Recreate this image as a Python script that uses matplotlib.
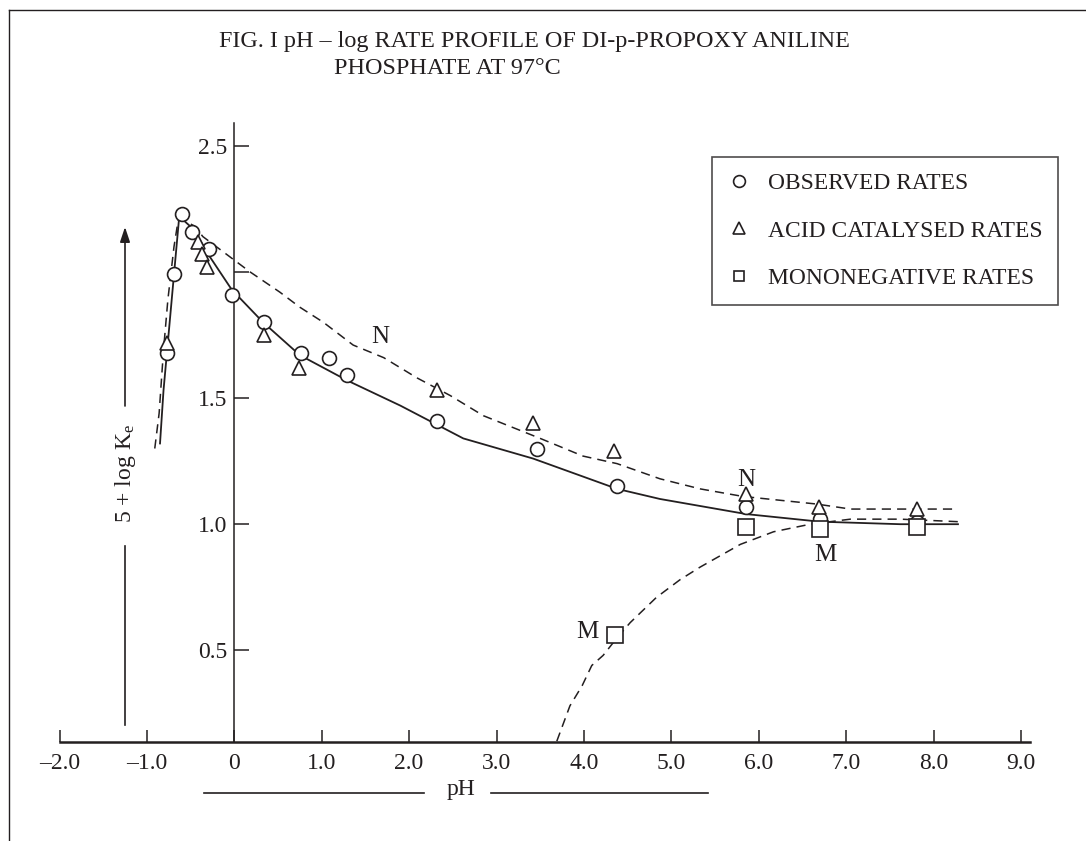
import matplotlib
matplotlib.use("Agg")
import matplotlib.pyplot as plt
from matplotlib.lines import Line2D
from matplotlib.ticker import FixedLocator, FixedFormatter

plt.rcParams['font.family'] = ['Liberation Serif', 'DejaVu Serif']
plt.rcParams['mathtext.fontset'] = 'custom'
plt.rcParams['mathtext.rm'] = 'Liberation Serif'
plt.rcParams['mathtext.it'] = 'Liberation Serif:italic'

INK = '#231f20'

# ---------------- data ----------------
obs_ph = [-0.77, -0.69, -0.60, -0.48, -0.29, -0.03, 0.34, 0.76, 1.08, 1.29, 2.32, 3.46, 4.38, 5.86, 6.70, 7.81]
obs_val = [1.68, 1.99, 2.23, 2.16, 2.09, 1.91, 1.80, 1.68, 1.66, 1.59, 1.41, 1.30, 1.15, 1.07, 1.02, 1.01]

acid_ph = [-0.77, -0.42, -0.37, -0.31, 0.34, 0.74, 2.32, 3.42, 4.35, 5.85, 6.69, 7.81]
acid_val = [1.72, 2.12, 2.07, 2.02, 1.75, 1.62, 1.53, 1.40, 1.29, 1.12, 1.07, 1.06]

mono_ph = [4.36, 5.86, 6.70, 7.81]
mono_val = [0.56, 0.99, 0.98, 0.99]

# solid fitted curve (observed)
fit_ph = [-0.85, -0.81, -0.63, -0.47, -0.28, -0.03, 0.33, 0.75, 1.29, 1.90, 2.62, 3.42, 4.38, 4.87, 5.86, 6.70, 7.62, 8.28]
fit_val = [1.32, 1.53, 2.22, 2.17, 2.06, 1.93, 1.80, 1.67, 1.57, 1.47, 1.34, 1.26, 1.14, 1.10, 1.04, 1.01, 1.00, 1.00]

# dashed curve N (acid catalysed)
n_ph = [-0.91, -0.86, -0.81, -0.76, -0.69, -0.64, -0.55, -0.45, -0.36, 0.18, 0.52, 0.75, 1.02, 1.36, 1.71,
        2.09, 2.47, 2.85, 3.50, 3.99, 4.38, 4.87, 5.33, 5.82, 6.66, 7.05, 8.25]
n_val = [1.30, 1.44, 1.69, 1.89, 2.10, 2.21, 2.20, 2.18, 2.14, 2.00, 1.92, 1.86, 1.80, 1.71, 1.66,
         1.58, 1.51, 1.43, 1.34, 1.27, 1.24, 1.18, 1.14, 1.11, 1.08, 1.06, 1.06]

# dashed curve M (mononegative)
m_ph = [3.69, 3.84, 3.98, 4.09, 4.22, 4.38, 4.53, 4.83, 5.10, 5.33, 5.79, 6.17, 6.59, 7.05, 7.62, 8.28]
m_val = [0.14, 0.28, 0.36, 0.44, 0.48, 0.55, 0.61, 0.71, 0.78, 0.83, 0.92, 0.97, 1.00, 1.02, 1.02, 1.01]

x_ticks = [-2, -1, 0, 1, 2, 3, 4, 5, 6, 7, 8, 9]
x_labels = ['\u20132.0', '\u20131.0', '0', '1.0', '2.0', '3.0', '4.0', '5.0', '6.0', '7.0', '8.0', '9.0']
y_ticks = [0.5, 1.0, 1.5, 2.0, 2.5]
y_labels = ['0.5', '1.0', '1.5', '', '2.5']

legend_labels = ['OBSERVED RATES', 'ACID CATALYSED RATES', 'MONONEGATIVE RATES']

# ---------------- layout ----------------
W, H = 1086, 841
fig = plt.figure(figsize=(W / 100, H / 100), dpi=100)
x0px, xscale = 234.3, 87.4      # pixel of pH 0, pixels per pH unit
y0px, yscale = 776.5, 252.3     # pixel (from top) of value 0, pixels per unit
xlim = (-2.5, 9.5)
ylim = (0.0, 2.7)
left = (x0px + xlim[0] * xscale) / W
right = (x0px + xlim[1] * xscale) / W
top = (y0px - ylim[1] * yscale)
bottom = y0px
ax = fig.add_axes([left, 1 - bottom / H, right - left, (bottom - top) / H])
ax.set_xlim(*xlim)
ax.set_ylim(*ylim)
ax.patch.set_alpha(0)

axis_y = 0.137
for s in ['top', 'right']:
    ax.spines[s].set_visible(False)
ax.spines['bottom'].set_position(('data', axis_y))
ax.spines['bottom'].set_bounds(-2, 9.1)
ax.spines['bottom'].set_linewidth(1.8)
ax.spines['bottom'].set_color(INK)
ax.spines['left'].set_position(('data', 0))
ax.spines['left'].set_bounds(axis_y, 2.59)
ax.spines['left'].set_linewidth(1.1)
ax.spines['left'].set_color(INK)

ax.xaxis.set_major_locator(FixedLocator(x_ticks))
ax.xaxis.set_major_formatter(FixedFormatter(x_labels))
ax.yaxis.set_major_locator(FixedLocator(y_ticks))
ax.yaxis.set_major_formatter(FixedFormatter(y_labels))
ax.tick_params(axis='x', direction='in', length=8.6, width=1.1, color=INK,
               labelsize=17, pad=8, labelcolor=INK)
ax.tick_params(axis='y', direction='in', length=11, width=1.1, color=INK,
               labelsize=17, pad=5, labelcolor=INK)

# ---------------- curves ----------------
ax.plot(fit_ph, fit_val, color=INK, lw=1.3, clip_on=False)
ax.plot(n_ph, n_val, color=INK, lw=1.1, ls=(0, (6, 4)), clip_on=False)
ax.plot(m_ph, m_val, color=INK, lw=1.1, ls=(0, (6, 4)), clip_on=False)

mk = dict(ls='none', mfc='white', mec=INK, mew=1.2, clip_on=False)
ax.plot(obs_ph, obs_val, marker='o', ms=10, zorder=4, **mk)
ax.plot(acid_ph, acid_val, marker='^', ms=10, zorder=4, **mk)
ax.plot(mono_ph, mono_val, marker='s', ms=12, zorder=4, **mk)

# curve labels
lab = dict(fontsize=18, color=INK, ha='center', va='center')
ax.text(1.675, 1.743, 'N', **lab)
ax.text(5.855, 1.175, 'N', **lab)
ax.text(6.76, 0.878, 'M', **lab)
ax.text(4.035, 0.572, 'M', **lab)

# ---------------- legend ----------------
handles = [Line2D([], [], marker='o', ms=8.5, **mk),
           Line2D([], [], marker='^', ms=8.5, **mk),
           Line2D([], [], marker='s', ms=6.5, **mk)]
leg = ax.legend(handles, legend_labels, loc='upper left',
                bbox_to_anchor=(712 / W, 1 - 157 / H), bbox_transform=fig.transFigure,
                fontsize=16.9, frameon=True, fancybox=False, edgecolor=INK,
                handlelength=1.0, handletextpad=0.71, borderpad=0.67,
                labelspacing=1.11, borderaxespad=0)
leg.get_frame().set_linewidth(1.2)
for t in leg.get_texts():
    t.set_color(INK)

# ---------------- axis titles ----------------
def fx(px):
    return px / W

def fy(py):
    return 1 - py / H

fig.text(fx(461), fy(790), 'pH', fontsize=17, color=INK, ha='center', va='center')
fig.add_artist(Line2D([fx(204), fx(424)], [fy(793), fy(793)], color=INK, lw=1.2))
fig.add_artist(Line2D([fx(491), fx(708)], [fy(793), fy(793)], color=INK, lw=1.2))

fig.text(fx(125), fy(473), '5 + log K$_{\\mathrm{e}}$', fontsize=17, color=INK,
         rotation=90, ha='center', va='center')
ax.annotate('', xy=(fx(125), fy(227)), xytext=(fx(125), fy(406)),
            xycoords='figure fraction', textcoords='figure fraction',
            arrowprops=dict(arrowstyle='-|>,head_length=0.9,head_width=0.3',
                            color=INK, lw=1.2, shrinkA=0, shrinkB=0))
fig.add_artist(Line2D([fx(125), fx(125)], [fy(546), fy(725)], color=INK, lw=1.2))

# ---------------- title ----------------
fig.text(fx(219), fy(47), 'FIG. I pH \u2013 log RATE PROFILE OF DI-p-PROPOXY ANILINE',
         fontsize=17.4, color=INK, ha='left', va='baseline')
fig.text(fx(334), fy(74), 'PHOSPHATE AT 97\u00b0C',
         fontsize=17.4, color=INK, ha='left', va='baseline')

# ---------------- frame ----------------
fig.add_artist(Line2D([fx(9), fx(9)], [fy(10), fy(841)], color=INK, lw=1.0))
fig.add_artist(Line2D([fx(9), fx(1086)], [fy(10), fy(10)], color=INK, lw=1.0))

fig.savefig('out.png', dpi=100, facecolor='white')
